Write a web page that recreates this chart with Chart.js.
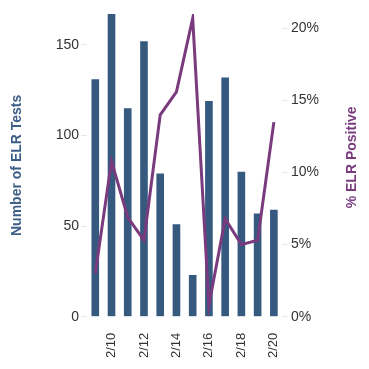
<!DOCTYPE html>
<html>
<head>
<meta charset="utf-8">
<script src="https://cdn.jsdelivr.net/npm/chart.js@4/dist/chart.umd.min.js"></script>
<style>
  html, body { margin: 0; padding: 0; background: #fff; }
  #wrap { width: 369px; height: 369px; }
</style>
</head>
<body>
<div id="wrap"><canvas id="elr-chart" width="369" height="369"></canvas></div>
<script>
const days = ['2/9','2/10','2/11','2/12','2/13','2/14','2/15','2/16','2/17','2/18','2/19','2/20'];
const testCounts = [131, 167, 115, 152, 79, 51, 23, 119, 132, 80, 57, 59];
const pctPositive = [3.0, 10.8, 6.9, 5.3, 14.0, 15.6, 20.7, 0.8, 6.8, 5.0, 5.3, 13.5];
const countTicks = [0, 50, 100, 150];
const pctTicks = [0, 5, 10, 15, 20];

const barBlue = '#35597f';
const linePurple = '#7a3b7e';
const tickGray = '#333333';

Chart.defaults.font.family = 'Arial, "Liberation Sans", sans-serif';

// right axis title drawn by hand so it reads bottom-to-top like the left one
const rightTitle = {
    id: 'rightTitle',
    afterDraw(chart) {
        const ctx = chart.ctx;
        const area = chart.chartArea;
        ctx.save();
        ctx.translate(352, (area.top + area.bottom) / 2 - 8);
        ctx.rotate(-Math.PI / 2);
        ctx.font = 'bold 14px Arial, "Liberation Sans", sans-serif';
        ctx.fillStyle = linePurple;
        ctx.textAlign = 'center';
        ctx.textBaseline = 'middle';
        ctx.fillText('% ELR Positive', 0, 0);
        ctx.restore();
    }
};

const elrChart = new Chart(document.querySelector('#elr-chart'), {
    type: 'bar',
    data: {
        labels: days,
        datasets: [{
            type: 'line',
            label: '% ELR Positive',
            data: pctPositive,
            yAxisID: 'yPct',
            borderColor: linePurple,
            borderWidth: 3,
            pointRadius: 0,
            tension: 0,
            order: 0
        }, {
            label: 'Number of ELR Tests',
            data: testCounts,
            yAxisID: 'yCount',
            backgroundColor: barBlue,
            barPercentage: 0.47,
            categoryPercentage: 1,
            order: 1
        }]
    },
    options: {
        responsive: false,
        maintainAspectRatio: false,
        animation: false,
        layout: { padding: { left: 9, right: 47, top: 14, bottom: 3 } },
        plugins: {
            legend: { display: false },
            tooltip: { enabled: false }
        },
        scales: {
            x: {
                grid: { display: false },
                border: { display: false },
                ticks: {
                    color: tickGray,
                    font: { size: 13 },
                    maxRotation: 90,
                    minRotation: 90,
                    autoSkip: false,
                    padding: 8,
                    callback: function(v, i) { return i % 2 === 1 ? days[i] : ''; }
                }
            },
            yCount: {
                position: 'left',
                min: 0,
                max: 167,
                afterBuildTicks: function(axis) {
                    axis.ticks = countTicks.map(v => ({ value: v }));
                },
                grid: { drawOnChartArea: false, color: '#e6e6e6', tickLength: 6 },
                border: { display: false },
                ticks: { color: tickGray, font: { size: 14 }, padding: 2 },
                title: {
                    display: true,
                    text: 'Number of ELR Tests',
                    color: '#3d5f87',
                    font: { size: 14, weight: 'bold' },
                    padding: { top: 0, bottom: 28 }
                }
            },
            yPct: {
                position: 'right',
                min: 0,
                max: 21,
                afterBuildTicks: function(axis) {
                    axis.ticks = pctTicks.map(v => ({ value: v }));
                },
                grid: { drawOnChartArea: false, color: '#e6e6e6', tickLength: 6 },
                border: { display: false },
                ticks: {
                    color: tickGray,
                    font: { size: 14 },
                    padding: 3,
                    callback: function(v) { return v + '%'; }
                }
            }
        }
    },
    plugins: [rightTitle]
});
</script>
</body>
</html>
